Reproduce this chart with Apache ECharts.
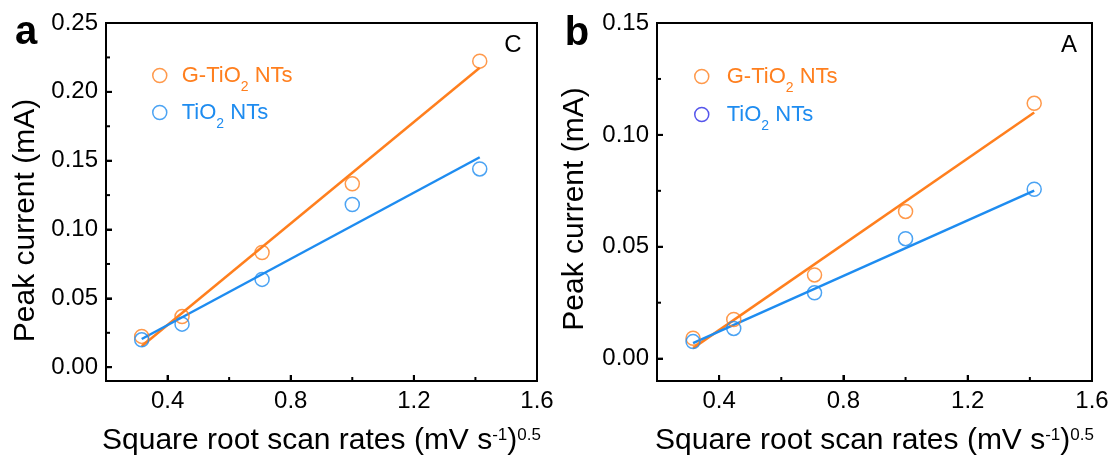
<!DOCTYPE html>
<html><head><meta charset="utf-8">
<script src="https://cdn.jsdelivr.net/npm/echarts@6/dist/echarts.min.js"></script>
<style>html,body{margin:0;padding:0;background:#fff;overflow:hidden}#c{width:1113px;height:463px}</style>
</head><body><div id="c"></div>
<script>
// ---- data ----
const xValues = [0.316, 0.447, 0.707, 1.0, 1.414];
const aG = [0.0224, 0.0368, 0.0833, 0.1332, 0.2223];
const aT = [0.0199, 0.0313, 0.0638, 0.1182, 0.1440];
const fitX = [0.316, 1.414];
const aFitG = [0.0152, 0.2175];
const aFitT = [0.0205, 0.1525];
const bG = [0.0091, 0.0175, 0.0374, 0.0658, 0.1141];
const bT = [0.0076, 0.0135, 0.0294, 0.0536, 0.0757];
const bFitG = [0.0047, 0.1100];
const bFitT = [0.0069, 0.0751];
const xRange = [0.2, 1.6];
const aYRange = [-0.01, 0.25];
const bYRange = [-0.01, 0.15];
const xLabelTicks = [0.4, 0.8, 1.2, 1.6];
const xMajorTicks = [0.4, 0.8, 1.2];
const xMinorTicks = [0.6, 1.0, 1.4];
const aYLabels = [0, 0.05, 0.10, 0.15, 0.20, 0.25];
const aYMajor = [0, 0.05, 0.10, 0.15, 0.20];
const aYMinor = [0.025, 0.075, 0.125, 0.175, 0.225];
const bYLabels = [0, 0.05, 0.10, 0.15];
const bYMajor = [0, 0.05, 0.10];
const bYMinor = [0.025, 0.075, 0.125];
const seriesNames = ['G-TiO2 NTs', 'TiO2 NTs'];
const panelLetters = ['a', 'b'];
const panelTags = ['C', 'A'];
const xTitle = 'Square root scan rates (mV s{sup|-1}){sup|0.5}';
const yTitle = 'Peak current (mA)';

const ORANGE = '#FF7F1E', BLUE = '#1E8CF0', DEEPBLUE = '#2A2AE6';
const FONT = '"Liberation Sans", Arial, sans-serif';
const zip = (xs, ys) => xs.map((x, i) => [x, ys[i]]);

const grids = [{left: 106, top: 23, width: 431, height: 360}, {left: 657, top: 23, width: 435, height: 361}];
const yRanges = [aYRange, bYRange];
const yLab = [aYLabels, bYLabels], yMaj = [aYMajor, bYMajor], yMin = [aYMinor, bYMinor];
const yPad = [37, 14];
const tickLine = {color: '#000', width: 2};

const xAxes = [], yAxes = [];
grids.forEach((g, i) => {
  xAxes.push({gridIndex: i, type: 'value', min: xRange[0], max: xRange[1],
    axisLine: {show: true, onZero: false, lineStyle: {color: '#000', width: 2}},
    axisTick: {show: true, inside: true, length: 6, customValues: xMajorTicks, lineStyle: tickLine},
    axisLabel: {customValues: xLabelTicks, formatter: v => v.toFixed(1), fontSize: 24, color: '#000', margin: 8, fontFamily: FONT},
    splitLine: {show: false},
    name: xTitle, nameLocation: 'middle', nameGap: 43,
    nameTextStyle: {fontSize: 30, lineHeight: 34, color: '#000', fontFamily: FONT,
      rich: {sup: {fontSize: 17, lineHeight: 17, padding: [3, 0, 0, 0], verticalAlign: 'top', color: '#000', fontFamily: FONT}}}});
  yAxes.push({gridIndex: i, type: 'value', min: yRanges[i][0], max: yRanges[i][1],
    axisLine: {show: true, onZero: false, lineStyle: {color: '#000', width: 2}},
    axisTick: {show: true, inside: true, length: 6, customValues: yMaj[i], lineStyle: tickLine},
    axisLabel: {customValues: yLab[i], formatter: v => v.toFixed(2), fontSize: 24, color: '#000', margin: 8, fontFamily: FONT},
    splitLine: {show: false},
    name: yTitle, nameLocation: 'middle', nameGap: 65 + i * 2,
    nameTextStyle: {fontSize: 30, lineHeight: 30, color: '#000', fontFamily: FONT, padding: [0, yPad[i], 0, 0]}});
});

// inward ticks (major + minor), positioned through the axes' own scales
const TICK_LEN = [6, 4, 6, 4];
function tickData(i) {
  const y0 = yRanges[i][0], x0 = xRange[0];
  return [].concat(
    xMajorTicks.map(v => [v, y0, 0]), xMinorTicks.map(v => [v, y0, 1]),
    yMaj[i].map(v => [x0, v, 2]), yMin[i].map(v => [x0, v, 3]));
}
function tickRender(params, api) {
  const kind = api.value(2);
  const p = api.coord([api.value(0), api.value(1)]);
  const cs = params.coordSys;
  const len = TICK_LEN[kind];
  const shape = kind < 2
    ? {x1: p[0], y1: cs.y + cs.height, x2: p[0], y2: cs.y + cs.height - len}
    : {x1: cs.x, y1: p[1], x2: cs.x + len, y2: p[1]};
  return {type: 'line', shape, style: {stroke: '#000', lineWidth: 2}};
}

const scatterStyle = c => ({color: 'rgba(0,0,0,0)', borderColor: c, borderWidth: 1.5});
const panelSeries = (i, g, t, fg, ft) => [
  {type: 'line', xAxisIndex: i, yAxisIndex: i, data: zip(fitX, fg), symbol: 'none', lineStyle: {color: ORANGE, width: 2.5}, z: 2, silent: true},
  {type: 'line', xAxisIndex: i, yAxisIndex: i, data: zip(fitX, ft), symbol: 'none', lineStyle: {color: BLUE, width: 2.5}, z: 2, silent: true},
  {name: seriesNames[0], type: 'scatter', xAxisIndex: i, yAxisIndex: i, data: zip(xValues, g), symbol: 'circle', symbolSize: 14, itemStyle: scatterStyle(ORANGE), z: 3},
  {name: seriesNames[1], type: 'scatter', xAxisIndex: i, yAxisIndex: i, data: zip(xValues, t), symbol: 'circle', symbolSize: 14, itemStyle: scatterStyle(BLUE), z: 3},
  {type: 'custom', xAxisIndex: i, yAxisIndex: i, data: tickData(i), encode: {x: 0, y: 1}, renderItem: tickRender, clip: false, silent: true, z: 4}
];

const makeLegend = (left, top, gap, pad, blueIcon) => ({
  left, top, orient: 'vertical', padding: 0, itemGap: gap, itemWidth: 14, itemHeight: 14, selectedMode: false,
  data: [
    {name: seriesNames[0], icon: 'circle', itemStyle: {color: 'rgba(0,0,0,0)', borderColor: ORANGE, borderWidth: 1.5}, textStyle: {color: ORANGE}},
    {name: seriesNames[1], icon: 'circle', itemStyle: {color: 'rgba(0,0,0,0)', borderColor: blueIcon, borderWidth: 1.5}, textStyle: {color: BLUE}}],
  formatter: n => n.replace('O2', 'O{sub|2}'),
  textStyle: {fontSize: 22, lineHeight: 22, fontFamily: FONT, padding: [0, 0, 0, pad],
    rich: {sub: {fontSize: 14, lineHeight: 14, padding: [23, 0, 0, 0], fontFamily: FONT}}}});

const txt = (x, y, text, size, weight) => ({type: 'text', x, y, silent: true,
  style: {text, fontSize: size, fontWeight: weight, fontFamily: FONT, fill: '#000', align: 'center', verticalAlign: 'middle'}});

const option = {
  animation: false, backgroundColor: '#fff',
  grid: grids.map(g => Object.assign({show: true, borderColor: '#000', borderWidth: 2, backgroundColor: 'transparent'}, g)),
  xAxis: xAxes, yAxis: yAxes,
  legend: [makeLegend(152, 57, 0, 10, BLUE), makeLegend(694, 58, 1, 13, DEEPBLUE)],
  series: [].concat(panelSeries(0, aG, aT, aFitG, aFitT), panelSeries(1, bG, bT, bFitG, bFitT)),
  graphic: [txt(26, 33, panelLetters[0], 40, 'bold'), txt(577, 34, panelLetters[1], 40, 'bold'),
    txt(513, 45, panelTags[0], 24, 'normal'), txt(1069, 45, panelTags[1], 24, 'normal')]
};
const chart = echarts.init(document.getElementById('c'), null, {renderer: 'canvas'});
chart.setOption(option);
</script>
</body></html>
